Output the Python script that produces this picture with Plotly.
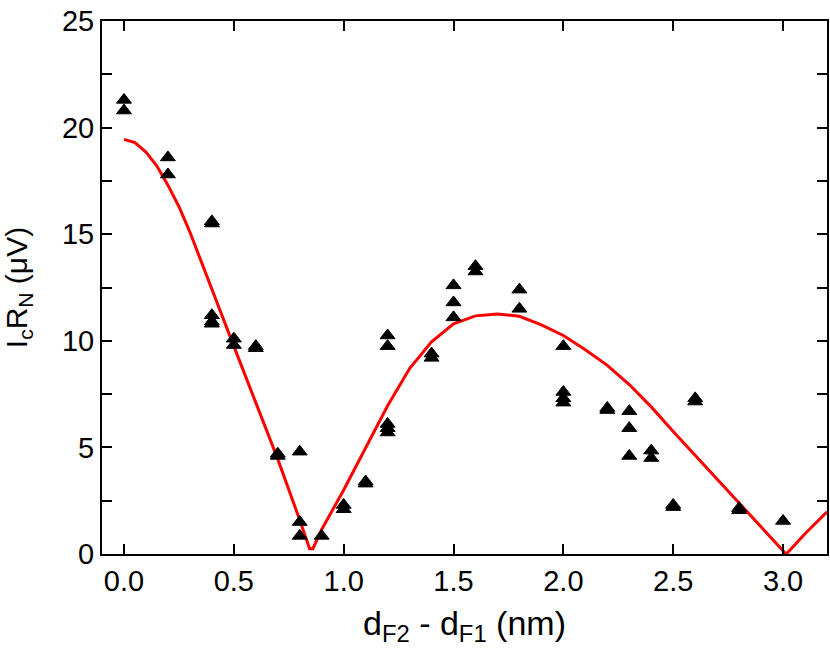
import plotly.graph_objects as go

# measured points: d_F2 - d_F1 (nm) vs IcRn (uV)
d_meas = [0.0, 0.0, 0.2, 0.2, 0.4, 0.4, 0.4, 0.4, 0.4,
          0.5, 0.5, 0.6, 0.6, 0.7, 0.7, 0.8, 0.8, 0.8, 0.9,
          1.0, 1.0, 1.1, 1.1, 1.2, 1.2, 1.2, 1.2, 1.2,
          1.4, 1.4, 1.5, 1.5, 1.5, 1.6, 1.6, 1.8, 1.8,
          2.0, 2.0, 2.0, 2.0, 2.2, 2.2, 2.3, 2.3, 2.3,
          2.4, 2.4, 2.5, 2.5, 2.6, 2.6, 2.8, 2.8, 3.0]
icrn_meas = [21.3, 20.8, 18.6, 17.8, 15.6, 15.5, 11.2, 10.9, 10.8,
             10.1, 9.8, 9.75, 9.65, 4.7, 4.6, 4.8, 1.5, 0.85, 0.85,
             2.3, 2.1, 3.4, 3.3, 10.25, 9.75, 6.1, 5.9, 5.7,
             9.4, 9.2, 12.6, 11.8, 11.1, 13.5, 13.25, 12.4, 11.5,
             9.75, 7.6, 7.3, 7.1, 6.85, 6.75, 6.7, 5.9, 4.6,
             4.85, 4.5, 2.3, 2.2, 7.3, 7.15, 2.15, 2.05, 1.55]

# fitted curve
d_fit = [0.0, 0.05, 0.1, 0.15, 0.2, 0.25, 0.3, 0.4, 0.5, 0.6,
         0.7, 0.8, 0.84, 0.845, 0.86, 0.9, 1.0, 1.1, 1.2, 1.3,
         1.4, 1.5, 1.6, 1.7, 1.8, 1.9, 2.0, 2.1, 2.2, 2.3,
         2.4, 2.5, 2.6, 2.7, 2.8, 2.9, 3.0, 3.015, 3.1, 3.2]
icrn_fit = [19.45, 19.3, 18.85, 18.2, 17.3, 16.3, 15.1, 12.4, 9.75, 7.1,
            4.45, 1.6, 0.4, 0.25, 0.25, 1.15, 3.0, 5.0, 6.95, 8.7,
            9.95, 10.8, 11.17, 11.26, 11.15, 10.75, 10.25, 9.58, 8.85, 7.95,
            6.9, 5.75, 4.62, 3.5, 2.38, 1.25, 0.15, 0.0, 0.95, 1.98]

font_family = "Liberation Sans, Arial, sans-serif"

fig = go.Figure()
fig.add_trace(go.Scatter(
    x=d_fit, y=icrn_fit, mode="lines",
    line=dict(color="#ff0000", width=3),
    showlegend=False,
))
fig.add_trace(go.Scatter(
    x=d_meas, y=icrn_meas, mode="markers",
    marker=dict(symbol="triangle-up", size=13, color="black",
                line=dict(color="black", width=1)),
    showlegend=False,
))

axis_common = dict(
    showline=True, linecolor="black", linewidth=2, mirror="allticks",
    ticks="inside", ticklen=10, tickwidth=2, tickcolor="black",
    showgrid=False, zeroline=False, automargin=False,
    tickfont=dict(family=font_family, size=29, color="black"),
)

fig.update_xaxes(
    range=[-0.1, 3.2], dtick=0.5, tick0=0, tickformat=".1f",
    title=dict(text="d<sub>F2</sub> - d<sub>F1</sub> (nm)",
               font=dict(family=font_family, size=34, color="black"),
               standoff=15),
    **axis_common,
)
fig.update_yaxes(
    range=[0, 25], dtick=5, tick0=0,
    minor=dict(dtick=2.5, ticks="inside", ticklen=10, tickwidth=2, tickcolor="black"),
    title=dict(text="I<sub>c</sub>R<sub>N</sub> (\u03bcV)",
               font=dict(family=font_family, size=30, color="black"),
               standoff=26),
    **axis_common,
)

fig.update_layout(
    width=830, height=656,
    margin=dict(l=102, r=3, t=21, b=102),
    paper_bgcolor="white", plot_bgcolor="white",
)

# drop the default page margin so the figure sits at the window's corner
fig.write_html(
    "out.html",
    config={"displayModeBar": False},
    post_script="document.body.style.margin='0';document.body.style.overflow='hidden';",
)
